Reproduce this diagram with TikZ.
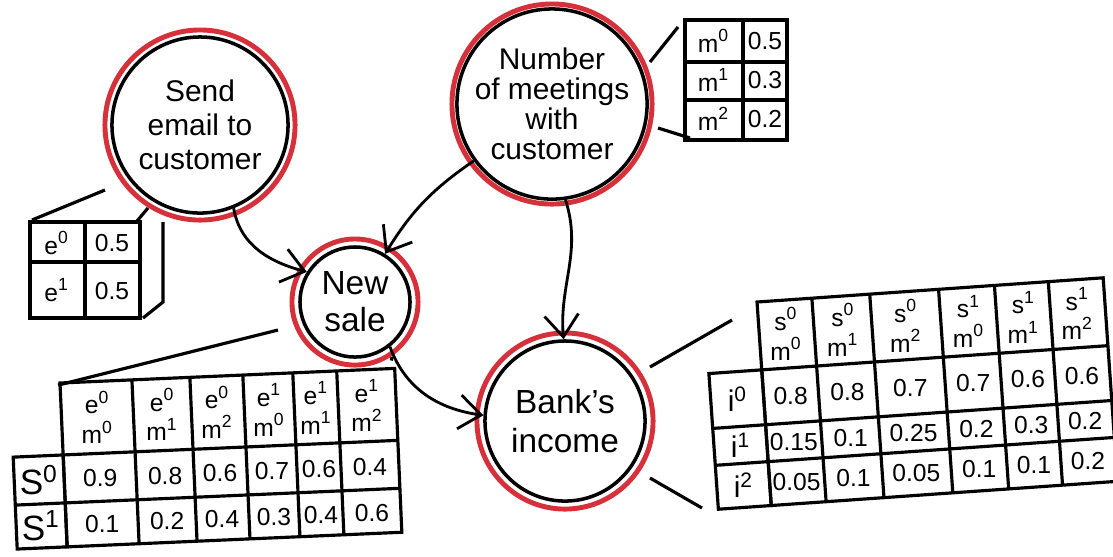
\documentclass[tikz,border=0pt]{standalone}
\usepackage{fontspec}
\setmainfont{Liberation Sans}
\usetikzlibrary{arrows.meta}
\definecolor{ringred}{RGB}{214,48,58}
\newcommand{\supx}[2]{#1\textsuperscript{#2}}

\begin{document}
\begin{tikzpicture}[x=0.01cm,y=-0.01cm,
    bnode/.style={circle,draw,line width=1pt,minimum size=#1,inner sep=0pt,align=center,
                  font=\fontsize{8.5}{9.7}\selectfont},
    ring/.style={draw=ringred,line width=1.4pt},
    link/.style={->,line width=0.8pt,>={Straight Barb[length=2.2mm,width=3.4mm]}},
    grid/.style={line width=0.9pt},
    cell/.style={font=\fontsize{7}{8.5}\selectfont,align=center,inner sep=0pt},
    ]
\useasboundingbox (0,0) rectangle (1113,556);

%-------------------------------------------- Nodes of the net
\node[bnode=1.76cm] (email) at (200,125) {Send\\email to\\customer};
\node[bnode=1.86cm,font=\fontsize{8.5}{8.5}\selectfont] (meet) at (552,104)
     {Number\\of meetings\\with\\customer};
\node[bnode=1.10cm,font=\fontsize{9.5}{10.5}\selectfont] (sale) at (355,302) {New\\sale};
\node[bnode=1.60cm,font=\fontsize{9.5}{11}\selectfont] (bank) at (565,421) {Bank's\\income};

% red rings round the nodes
\draw[ring] (email) circle (0.95cm);
\draw[ring] (meet) circle (1.00cm);
\draw[ring] (sale) circle (0.63cm);
\draw[ring] (bank) circle (0.88cm);

%-------------------------------------------- Arrows
\draw[link] (email.-68) to[out=-80,in=165] (sale.148);
\draw[link] (meet.216) to[bend right=12] (sale.58);
\draw[link] (meet.-82) to[out=-72,in=95] (bank.91);
\draw[link] (sale.-52) to[out=-70,in=172] (bank.176);

%-------------------------------------------- Table of email
\draw[grid] (30,222) rectangle (140,318);
\draw[grid] (85,222) -- (85,318) (30,262) -- (140,262);
\draw[grid] (163,222) -- (163,302) -- (143,318);     % side
\coordinate (etl) at (32,220);
\coordinate (etr) at (137,221);
\coordinate (eup) at (105,190);
\coordinate (ecl) at (148,208);
\draw[grid] (etl) -- (eup);
\draw[grid] (etr) -- (ecl);
\node[cell] (e0) at (57,243) {\supx{e}{0}};
\node[cell] (e0p) at (112,243) {0.5};
\node[cell] (e1) at (57,290) {\supx{e}{1}};
\node[cell] (e1p) at (112,291) {0.5};

%-------------------------------------------- Table of meetings
\draw[grid] (685,20) rectangle (787,140);
\draw[grid] (743,20) -- (743,140) (685,62) -- (787,62) (685,100) -- (787,100);
\coordinate (mup) at (650,62);
\coordinate (mupt) at (678,27);
\coordinate (mlo) at (658,128);
\coordinate (mlot) at (690,138);
\draw[grid] (mup) -- (mupt);
\draw[grid] (mlo) -- (mlot);
\foreach \v/\p [count=\i from 0] in {0/0.5,1/0.3,2/0.2}{
    \node[cell] (m\i) at (714,41+39*\i) {\supx{m}{\v}};
    \node[cell] (mp\i) at (765,41+39*\i) {\p};
}

%-------------------------------------------- Table of new sale
\begin{scope}[shift={(60,383)},rotate=2.5]
  \draw[grid] (0,0) rectangle (335,164);
  \draw[grid] (-50,72) rectangle (0,164);
  \draw[grid] (-50,120) -- (335,120) (0,72) -- (335,72);
  \foreach \x in {72,130,183,233,277} \draw[grid] (\x,0) -- (\x,164);
  \foreach \cx/\e/\m/\a/\b [count=\i] in {36/0/0/0.9/0.1, 101/0/1/0.8/0.2, 156/0/2/0.6/0.4,
                                        208/1/0/0.7/0.3, 255/1/1/0.6/0.4, 306/1/2/0.4/0.6}{
    \node[cell] (sh\i) at (\cx,36) {\supx{e}{\e}\\\supx{m}{\m}};
    \node[cell] (sa\i) at (\cx,97) {\a};
    \node[cell] (sb\i) at (\cx,143) {\b};
  }
  \node[cell,font=\fontsize{10}{11}\selectfont] (s0) at (-25,96) {\supx{S}{0}};
  \node[cell,font=\fontsize{10}{11}\selectfont] (s1) at (-25,142) {\supx{S}{1}};
  \coordinate (stl) at (-2,2);
  \coordinate (str) at (332,-8);
\end{scope}
\coordinate (sup) at (278,330);
\coordinate (scl) at (392,357);
\draw[grid] (stl) -- (sup);
\draw[grid] (str) -- (scl);

%-------------------------------------------- Table of bank's income
\begin{scope}[shift={(757,302)},rotate=4]
  \draw[grid] (0,0) rectangle (347,204);
  \draw[grid] (-53,68) rectangle (0,204);
  \draw[grid] (-53,123) -- (347,123) (-53,160) -- (347,160) (0,68) -- (347,68);
  \foreach \x in {55,113,182,238,292} \draw[grid] (\x,0) -- (\x,204);
  \foreach \cx/\s/\m/\a/\b/\c [count=\i] in {27/0/0/0.8/0.15/0.05, 84/0/1/0.8/0.1/0.1,
                                           147/0/2/0.7/0.25/0.05, 210/1/0/0.7/0.2/0.1,
                                           265/1/1/0.6/0.3/0.1, 319/1/2/0.6/0.2/0.2}{
    \node[cell] (bh\i) at (\cx,34) {\supx{s}{\s}\\\supx{m}{\m}};
    \node[cell] (ba\i) at (\cx,96) {\a};
    \node[cell] (bb\i) at (\cx,142) {\b};
    \node[cell] (bc\i) at (\cx,182) {\c};
  }
  \foreach \r/\cy in {0/96,1/142,2/182}
    \node[cell,font=\fontsize{8.5}{9}\selectfont] (i\r) at (-26,\cy) {\supx{i}{\r}};
\end{scope}
\coordinate (bup) at (650,367);
\coordinate (bupt) at (732,320);
\coordinate (blo) at (650,478);
\coordinate (blot) at (702,508);
\draw[grid] (bup) -- (bupt);
\draw[grid] (blo) -- (blot);

\end{tikzpicture}
\end{document}
